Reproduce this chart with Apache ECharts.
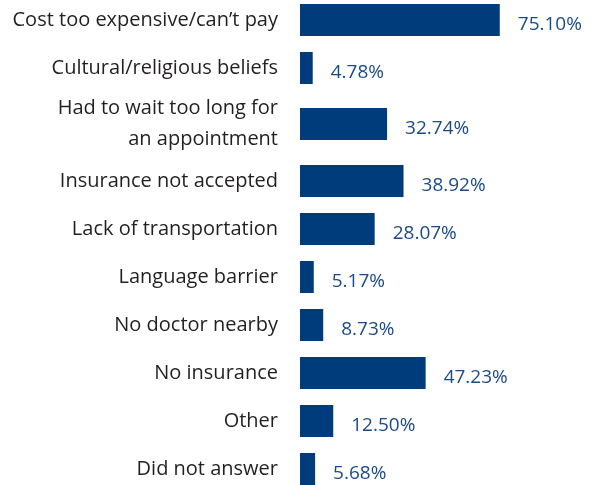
<!DOCTYPE html>
<html><head><meta charset="utf-8">
<script src="https://cdn.jsdelivr.net/npm/echarts@6/dist/echarts.min.js"></script>
<style>html,body{margin:0;padding:0;background:#fff}#c{width:599px;height:485px}</style>
</head><body><div id="c"></div>
<script>
const categories = ["Cost too expensive/can\u2019t pay","Cultural/religious beliefs","Had to wait too long for\nan appointment","Insurance not accepted","Lack of transportation","Language barrier","No doctor nearby","No insurance","Other","Did not answer"];
const values = [75.10, 4.78, 32.74, 38.92, 28.07, 5.17, 8.73, 47.23, 12.50, 5.68];

// three row groups (the two-line row gets extra room, as in the reference)
const groups = [[0, 2], [2, 3], [3, 10]];
const gridDefs = [
  {top: 20, height: 48, gap: false},
  {top: 100, height: 48, gap: true},
  {top: 181, height: 288, gap: false}
];

const labelStyle = {margin: 22, color: '#231f20', fontFamily: 'Open Sans', fontSize: 20, lineHeight: 31, align: 'right'};
const chart = echarts.init(document.getElementById('c'));
chart.setOption({
  animation: false,
  grid: gridDefs.map(g => ({left: 300, width: 266, top: g.top, height: g.height})),
  xAxis: gridDefs.map((g, i) => ({type: 'value', min: 0, max: 100, show: false, gridIndex: i})),
  yAxis: gridDefs.map((g, i) => ({
    type: 'category', inverse: true, gridIndex: i, boundaryGap: g.gap,
    data: categories.slice(groups[i][0], groups[i][1]),
    axisLine: {show: false}, axisTick: {show: false}, splitLine: {show: false},
    axisLabel: labelStyle
  })),
  series: gridDefs.map((g, i) => ({
    type: 'bar', xAxisIndex: i, yAxisIndex: i,
    data: values.slice(groups[i][0], groups[i][1]), barWidth: 32,
    itemStyle: {color: '#003b7b'},
    label: {show: true, position: 'right', distance: 18, offset: [0, 5], color: '#1b4a88', fontFamily: 'Open Sans', fontSize: 19,
      formatter: p => p.value.toFixed(2) + '%'}
  }))
});
</script></body></html>
